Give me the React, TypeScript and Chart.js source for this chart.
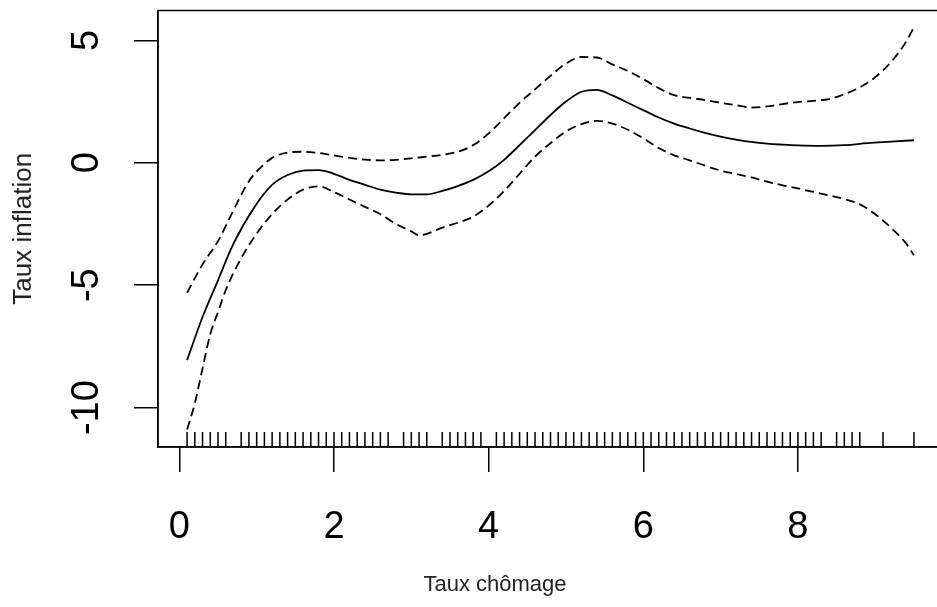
import React, { useEffect, useRef } from 'react';
import { Chart, registerables } from 'chart.js';

Chart.register(...registerables);

// Fitted smooth (solid line)
const FIT_X = [0.1, 0.3, 0.5, 0.7, 1.0, 1.2, 1.4, 1.6, 1.8, 2.0, 2.2, 2.4, 2.6, 2.8, 3.0, 3.2, 3.4, 3.6, 3.8, 4.0, 4.2, 4.4, 4.6, 4.8, 5.0, 5.2, 5.4, 5.6, 5.8, 6.0, 6.2, 6.4, 6.6, 6.8, 7.0, 7.2, 7.4, 7.6, 7.8, 8.0, 8.3, 8.6, 8.9, 9.2, 9.5];
const FIT_Y = [-8.06, -6.3, -4.8, -3.3, -1.67, -0.9, -0.5, -0.32, -0.3, -0.45, -0.7, -0.9, -1.1, -1.22, -1.29, -1.29, -1.15, -0.95, -0.7, -0.35, 0.12, 0.72, 1.33, 1.95, 2.5, 2.9, 2.98, 2.75, 2.45, 2.15, 1.85, 1.6, 1.4, 1.22, 1.07, 0.95, 0.85, 0.78, 0.74, 0.71, 0.69, 0.72, 0.8, 0.86, 0.92];

// Upper confidence band (dashed)
const UPPER_X = [0.1, 0.3, 0.5, 0.7, 0.9, 1.1, 1.2, 1.4, 1.6, 1.8, 2.0, 2.2, 2.4, 2.6, 2.8, 3.0, 3.2, 3.4, 3.6, 3.8, 4.0, 4.2, 4.4, 4.6, 4.8, 5.0, 5.2, 5.4, 5.6, 5.8, 6.0, 6.2, 6.4, 6.6, 6.8, 7.0, 7.2, 7.4, 7.6, 7.8, 8.0, 8.2, 8.4, 8.6, 8.8, 9.0, 9.2, 9.4, 9.5];
const UPPER_Y = [-5.31, -4.15, -3.2, -1.94, -0.75, -0.05, 0.2, 0.42, 0.45, 0.4, 0.3, 0.2, 0.13, 0.1, 0.12, 0.18, 0.25, 0.32, 0.45, 0.72, 1.2, 1.82, 2.45, 3.0, 3.55, 4.05, 4.32, 4.3, 4.02, 3.75, 3.42, 3.05, 2.76, 2.65, 2.56, 2.45, 2.35, 2.25, 2.3, 2.4, 2.48, 2.53, 2.6, 2.8, 3.08, 3.5, 4.1, 4.95, 5.54];

// Lower confidence band (dashed)
const LOWER_X = [0.1, 0.2, 0.3, 0.4, 0.5, 0.6, 0.8, 1.0, 1.2, 1.4, 1.6, 1.8, 2.0, 2.2, 2.4, 2.6, 2.8, 3.0, 3.1, 3.2, 3.4, 3.6, 3.8, 4.0, 4.2, 4.4, 4.6, 4.8, 5.0, 5.2, 5.4, 5.6, 5.8, 6.0, 6.2, 6.4, 6.6, 6.8, 7.0, 7.2, 7.4, 7.6, 7.8, 8.0, 8.2, 8.4, 8.6, 8.8, 9.0, 9.2, 9.4, 9.5];
const LOWER_Y = [-10.9, -9.83, -8.4, -7.0, -6.1, -5.2, -3.9, -2.89, -2.1, -1.5, -1.1, -0.96, -1.2, -1.5, -1.8, -2.1, -2.5, -2.8, -2.96, -2.9, -2.65, -2.45, -2.2, -1.75, -1.15, -0.45, 0.25, 0.8, 1.28, 1.58, 1.71, 1.6, 1.35, 1.0, 0.6, 0.3, 0.1, -0.12, -0.32, -0.46, -0.6, -0.77, -0.92, -1.05, -1.19, -1.33, -1.48, -1.7, -2.1, -2.65, -3.3, -3.78];

// Rug (observed unemployment values)
const RUG_X = [
  0.1, 0.2, 0.3, 0.4, 0.5, 0.6,
  0.8, 0.9, 1.0, 1.1, 1.2, 1.3, 1.4, 1.5, 1.6, 1.7, 1.8, 1.9, 2.0, 2.1, 2.2, 2.3, 2.4, 2.5, 2.6, 2.7,
  2.9, 3.0, 3.1, 3.2,
  3.4, 3.5, 3.6, 3.7, 3.8, 3.9,
  4.1, 4.2, 4.3, 4.4, 4.5, 4.6, 4.7, 4.8, 4.9, 5.0, 5.1, 5.2, 5.3, 5.4, 5.5, 5.6, 5.7, 5.8, 5.9, 6.0,
  6.1, 6.2, 6.3, 6.4, 6.5, 6.6, 6.7, 6.8, 6.9, 7.0, 7.1, 7.2, 7.3, 7.4, 7.5, 7.6, 7.7, 7.8, 7.9, 8.0,
  8.1, 8.2, 8.3,
  8.5, 8.6, 8.7, 8.8,
  9.1, 9.5,
];

const X_TICKS = [0, 2, 4, 6, 8];
const Y_TICKS = [-10, -5, 0, 5];
const X_TITLE = 'Taux chômage';
const Y_TITLE = 'Taux inflation';

const FONT = '"Liberation Sans", Arial, sans-serif';

const toPoints = (xs: number[], ys: number[]) => xs.map((x, i) => ({ x, y: ys[i] }));

const framePlugin = {
  id: 'frameAndRug',
  afterDatasetsDraw(chart: any) {
    const { ctx, chartArea: a, scales } = chart;
    ctx.save();
    ctx.strokeStyle = '#000';
    ctx.lineWidth = 1.5;
    ctx.strokeRect(a.left, a.top, a.right - a.left, a.bottom - a.top);
    ctx.beginPath();
    RUG_X.forEach((v) => {
      const px = scales.x.getPixelForValue(v);
      ctx.moveTo(px, a.bottom);
      ctx.lineTo(px, a.bottom - 15);
    });
    ctx.stroke();
    // x-axis title (offset to the left as in the reference)
    ctx.fillStyle = '#222';
    ctx.font = `22px ${FONT}`;
    ctx.textAlign = 'center';
    ctx.textBaseline = 'middle';
    ctx.fillText(X_TITLE, a.left + 337, 585);
    ctx.restore();
  },
};

export default function App() {
  const ref = useRef<HTMLCanvasElement | null>(null);

  useEffect(() => {
    if (!ref.current) return;
    const common = {
      showLine: true,
      borderColor: '#000',
      borderWidth: 1.8,
      pointRadius: 0,
      fill: false,
      cubicInterpolationMode: 'monotone' as const,
    };
    const chart = new Chart(ref.current, {
      type: 'scatter',
      data: {
        datasets: [
          { ...common, label: 'fit', data: toPoints(FIT_X, FIT_Y) },
          { ...common, label: 'upper', data: toPoints(UPPER_X, UPPER_Y), borderDash: [9, 5] },
          { ...common, label: 'lower', data: toPoints(LOWER_X, LOWER_Y), borderDash: [9, 5] },
        ],
      },
      options: {
        animation: false,
        responsive: false,
        devicePixelRatio: 1,
        layout: { padding: { left: 0, top: 10.5, right: 17, bottom: 0 } },
        plugins: { legend: { display: false }, tooltip: { enabled: false } },
        scales: {
          x: {
            type: 'linear',
            min: -0.276,
            max: 9.876,
            afterBuildTicks: (s: any) => { s.ticks = X_TICKS.map((v) => ({ value: v })); },
            afterFit: (s: any) => { s.height = 160; s.paddingLeft = 0; s.paddingRight = 0; },
            ticks: { color: '#000', font: { family: FONT, size: 38 }, padding: 33, maxRotation: 0 },
            grid: { drawOnChartArea: false, drawTicks: true, tickLength: 25, color: '#000', lineWidth: 1.5 },
            border: { display: true, color: '#000', width: 1.5 },
            title: { display: false },
          },
          y: {
            type: 'linear',
            min: -11.61,
            max: 6.22,
            afterBuildTicks: (s: any) => { s.ticks = Y_TICKS.map((v) => ({ value: v })); },
            afterFit: (s: any) => { s.width = 158; s.paddingTop = 0; s.paddingBottom = 0; },
            ticks: { color: '#000', font: { family: FONT, size: 38 }, padding: 19, minRotation: 90, maxRotation: 90, crossAlign: 'center' },
            grid: { drawOnChartArea: false, drawTicks: true, tickLength: 24, color: '#000', lineWidth: 1.5 },
            border: { display: true, color: '#000', width: 1.5 },
            title: { display: true, text: Y_TITLE, color: '#222', font: { family: FONT, size: 26 }, padding: { top: 8, bottom: 0 } },
          },
        },
      },
      plugins: [framePlugin],
    });
    return () => chart.destroy();
  }, []);

  return (
    <div style={{ position: 'absolute', left: 0, top: 0, width: 937, height: 607, overflow: 'hidden', background: '#fff' }}>
      <canvas ref={ref} width={960} height={607} style={{ display: 'block', width: 960, height: 607 }} />
    </div>
  );
}
